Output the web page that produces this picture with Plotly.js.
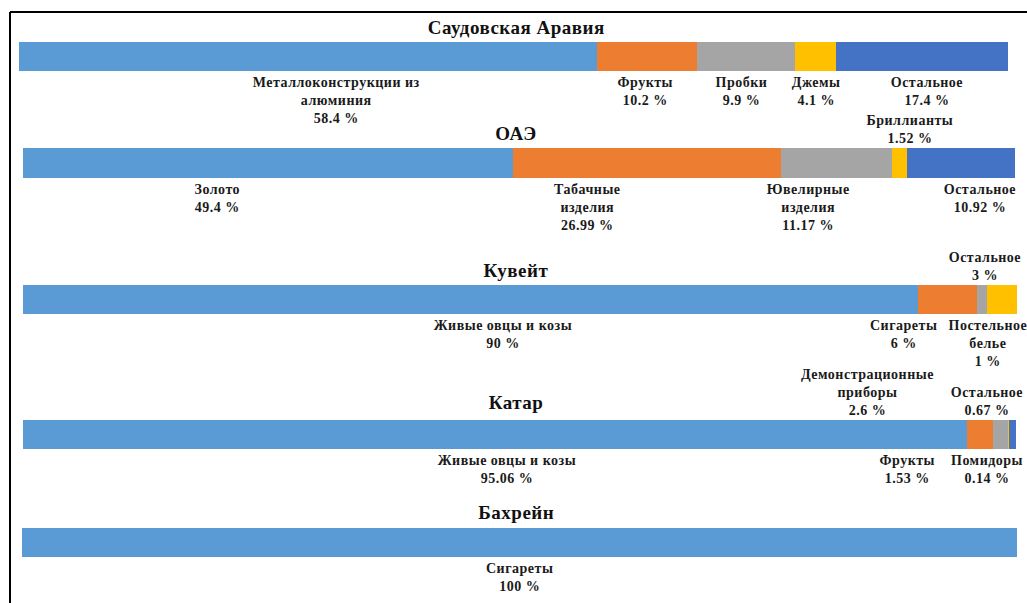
<!DOCTYPE html>
<html>
<head>
<meta charset="utf-8">
<script src="https://cdn.plot.ly/plotly-3.0.1.min.js"></script>
<style>
html,body{margin:0;padding:0;background:#fff;}
#chart{width:1027px;height:603px;}
#chart .annotation-text{letter-spacing:0.5px;}
</style>
</head>
<body>
<div id="chart"></div>
<script>
// ---- data ----
const countries = ["Саудовская Аравия", "ОАЭ", "Кувейт", "Катар", "Бахрейн"];

const saudiItems = ["Металлоконструкции из<br>алюминия", "Фрукты", "Пробки", "Джемы", "Остальное"];
const saudiValues = [58.4, 10.2, 9.9, 4.1, 17.4];

const uaeItems = ["Золото", "Табачные<br>изделия", "Ювелирные<br>изделия", "Бриллианты", "Остальное"];
const uaeValues = [49.4, 26.99, 11.17, 1.52, 10.92];

const kuwaitItems = ["Живые овцы и козы", "Сигареты", "Постельное<br>белье", "Остальное"];
const kuwaitValues = [90, 6, 1, 3];

const qatarItems = ["Живые овцы и козы", "Демонстрационные<br>приборы", "Фрукты", "Помидоры", "Остальное"];
const qatarValues = [95.06, 2.6, 1.53, 0.14, 0.67];

const bahrainItems = ["Сигареты"];
const bahrainValues = [100];

// ---- layout / style (not data) ----
const W = 1027, H = 603;
const palette = ["#5B9BD5", "#ED7D31", "#A5A5A5", "#FFC000", "#4472C4"];
// bar pixel boxes [x0, x1, yTop, yBottom]
const boxes = [
  [19, 1008, 42, 71],
  [23, 1015, 148, 178],
  [23, 1017, 285, 314],
  [23, 1016, 420, 449],
  [22, 1017, 528, 557]
];
// label placement: [xshift px, above?]
const labelPlace = [
  [[29, 0], [-2, 0], [-5, 0], [0, 0], [5, 0]],
  [[-51, 0], [-59, 0], [-28, 0], [11, 1], [19, 0]],
  [[33, 0], [-44, 0], [6, 0], [-17, 1]],
  [[12, 0], [-112, 1], [-93, 0], [-22, 0], [-26, 1]],
  [[0, 0]]
];
const titleShift = [2, 2, 2, 5, 3];

const groups = [
  [saudiItems, saudiValues],
  [uaeItems, uaeValues],
  [kuwaitItems, kuwaitValues],
  [qatarItems, qatarValues],
  [bahrainItems, bahrainValues]
];

const labelFont = {family: "Liberation Serif, Times New Roman, serif", size: 14, color: "#1a1a1a", weight: "bold"};
const titleFont = {family: "Liberation Serif, Times New Roman, serif", size: 19, color: "#111", weight: "bold"};

const traces = [];
const annotations = [];
const layout = {
  width: W, height: H,
  margin: {l: 0, r: 0, t: 0, b: 0},
  paper_bgcolor: "#fff", plot_bgcolor: "rgba(0,0,0,0)",
  barmode: "stack", bargap: 0,
  showlegend: false,
  hovermode: false,
  shapes: [
    {type: "line", xref: "paper", yref: "paper", x0: 10 / W, x1: 1, y0: 1 - 12 / H, y1: 1 - 12 / H, line: {color: "#000", width: 2}},
    {type: "line", xref: "paper", yref: "paper", x0: 10 / W, x1: 10 / W, y0: 1 - 12 / H, y1: 0, line: {color: "#000", width: 2}}
  ]
};

groups.forEach(([items, values], g) => {
  const n = g + 1;
  const xa = "x" + (n === 1 ? "" : n);
  const ya = "y" + (n === 1 ? "" : n);
  const b = boxes[g];
  layout["xaxis" + (n === 1 ? "" : n)] = {
    domain: [b[0] / W, b[1] / W], range: [0, 100], visible: false, fixedrange: true, anchor: ya
  };
  layout["yaxis" + (n === 1 ? "" : n)] = {
    domain: [1 - b[3] / H, 1 - b[2] / H], range: [-0.5, 0.5], visible: false, fixedrange: true, anchor: xa,
    type: "category"
  };
  let cum = 0;
  items.forEach((item, i) => {
    const v = values[i];
    traces.push({
      type: "bar", orientation: "h",
      x: [v], y: [countries[g]],
      xaxis: xa, yaxis: ya,
      marker: {color: palette[i], line: {width: 0}},
      hoverinfo: "skip"
    });
    const mid = cum + v / 2;
    cum += v;
    const [xs, above] = labelPlace[g][i];
    annotations.push({
      xref: xa, yref: ya + " domain",
      x: mid, y: above ? 1 : 0,
      xanchor: "center", yanchor: above ? "bottom" : "top",
      xshift: xs, yshift: above ? 0 : -2,
      text: item + "<br>" + v + " %",
      showarrow: false, align: "center",
      font: labelFont
    });
  });
  annotations.push({
    xref: "paper", yref: ya + " domain",
    x: 516 / W, y: 1, xanchor: "center", yanchor: "bottom", yshift: titleShift[g],
    text: countries[g], showarrow: false, font: titleFont
  });
});

layout.annotations = annotations;
Plotly.newPlot("chart", traces, layout, {displayModeBar: false, staticPlot: true});
</script>
</body>
</html>
